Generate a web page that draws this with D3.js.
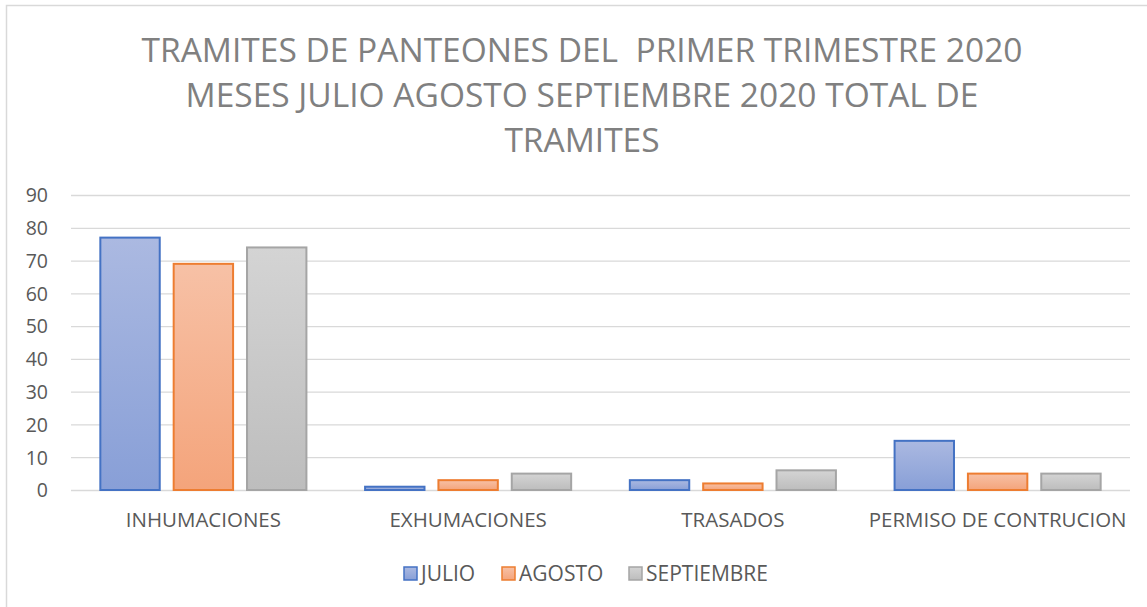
<!DOCTYPE html>
<html>
<head>
<meta charset="utf-8">
<script src="https://cdn.jsdelivr.net/npm/d3@7"></script>
<style>
  body { margin: 0; background: #fff; }
  text { font-family: "Open Sans", "Noto Sans", sans-serif; }
</style>
</head>
<body>
<div id="chart"></div>
<script>
const width = 1147;
const height = 607;
const margin = {top: 195, right: 17, bottom: 117, left: 71};

// ------- data ---------//
const titleLines = [
  "TRAMITES DE PANTEONES DEL  PRIMER TRIMESTRE 2020",
  "MESES JULIO AGOSTO SEPTIEMBRE 2020 TOTAL DE",
  "TRAMITES"
];
const categories = ["INHUMACIONES", "EXHUMACIONES", "TRASADOS", "PERMISO DE CONTRUCION"];
const seriesNames = ["JULIO", "AGOSTO", "SEPTIEMBRE"];
const julio = [77, 1, 3, 15];
const agosto = [69, 3, 2, 5];
const septiembre = [74, 5, 6, 5];
const yTicks = [0, 10, 20, 30, 40, 50, 60, 70, 80, 90];

const series = [
  {name: seriesNames[0], values: julio, top: "#abb9e1", bottom: "#889fd7", stroke: "#4472c4"},
  {name: seriesNames[1], values: agosto, top: "#f7c1a6", bottom: "#f4a47b", stroke: "#ed7d31"},
  {name: seriesNames[2], values: septiembre, top: "#d4d4d4", bottom: "#bdbdbd", stroke: "#a5a5a5"}
];

// ------- scale ---------//
const xScale = d3.scaleBand()
  .domain(categories)
  .range([margin.left, width - margin.right])
  .padding(0);

const x1 = d3.scaleBand()
  .domain(seriesNames)
  .range([0, xScale.bandwidth()])
  .paddingInner(0.19)
  .paddingOuter(0.4);

const yScale = d3.scaleLinear()
  .domain([0, 90])
  .range([height - margin.bottom, margin.top]);

// ------- draw --------//
const svg = d3.select("#chart")
  .append("svg")
  .attr("width", width)
  .attr("height", height);

const defs = svg.append("defs");
series.forEach((s, i) => {
  const g = defs.append("linearGradient")
    .attr("id", "grad" + i)
    .attr("x1", 0).attr("y1", 0).attr("x2", 0).attr("y2", 1);
  g.append("stop").attr("offset", "0%").attr("stop-color", s.top);
  g.append("stop").attr("offset", "100%").attr("stop-color", s.bottom);
});

// chart frame
svg.append("rect")
  .attr("x", 6.5).attr("y", 5.5)
  .attr("width", width + 10).attr("height", height + 10)
  .attr("fill", "none")
  .attr("stroke", "#d9d9d9")
  .attr("stroke-width", 1.5);

// title
const title = svg.append("text")
  .attr("text-anchor", "middle")
  .attr("fill", "#808080")
  .style("white-space", "pre")
  .attr("font-size", 30);

title.selectAll("tspan")
  .data(titleLines)
  .join("tspan")
  .attr("x", 582)
  .attr("y", (d, i) => 62 + i * 45)
  .text(d => d);

// fit title width to reference
const w0 = title.select("tspan").node().getComputedTextLength();
title.attr("font-size", 30 * 881 / w0);

// grid
const yAxis = d3.axisLeft(yScale)
  .tickValues(yTicks)
  .tickSize(-(width - margin.left - margin.right))
  .tickPadding(23);

const yg = svg.append("g")
  .attr("transform", `translate(${margin.left},0)`)
  .call(yAxis);
yg.select(".domain").remove();
yg.selectAll(".tick line").attr("stroke", "#d9d9d9").attr("stroke-width", 1.3);
yg.selectAll(".tick text")
  .attr("fill", "#595959")
  .attr("font-size", 19.5)
  .attr("dy", "0.35em");

// bars
const chart = svg.append("g");
series.forEach((s, i) => {
  chart.append("g")
    .selectAll("rect")
    .data(s.values)
    .join("rect")
    .attr("x", (d, j) => xScale(categories[j]) + x1(s.name))
    .attr("y", d => yScale(d))
    .attr("width", x1.bandwidth())
    .attr("height", d => yScale(0) - yScale(d))
    .attr("fill", `url(#grad${i})`)
    .attr("stroke", s.stroke)
    .attr("stroke-width", 2);
});

// x axis labels
const xAxis = d3.axisBottom(xScale).tickSize(0).tickPadding(22);
const xg = svg.append("g")
  .attr("transform", `translate(0,${yScale(0)})`)
  .call(xAxis);
xg.select(".domain").remove();
xg.selectAll(".tick text")
  .attr("fill", "#595959")
  .attr("font-size", 20.5);

// legend
const legendX = [404, 502, 629];
const legend = svg.append("g")
  .selectAll("g")
  .data(series)
  .join("g")
  .attr("transform", (d, i) => `translate(${legendX[i]},567)`);

legend.append("rect")
  .attr("width", 13).attr("height", 13)
  .attr("fill", (d, i) => `url(#grad${i})`)
  .attr("stroke", d => d.stroke)
  .attr("stroke-width", 1.5);

legend.append("text")
  .attr("x", 17)
  .attr("y", 7)
  .attr("dy", "0.35em")
  .attr("fill", "#595959")
  .attr("font-size", 21)
  .text(d => d.name);
</script>
</body>
</html>
